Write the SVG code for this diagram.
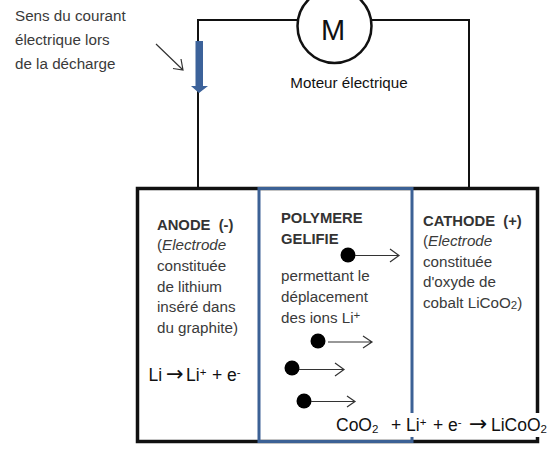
<svg xmlns="http://www.w3.org/2000/svg" width="553" height="451" viewBox="0 0 553 451">
<style>
text{font-family:"Liberation Sans",Arial,sans-serif;fill:#111;white-space:pre}
.lab{font-size:15.200px;fill:#3a3a3a}
.b{font-size:14.800px;font-weight:bold;fill:#333}
.f{font-size:17.500px;fill:#111}
.s{font-size:11.500px}
.arr{font-family:"DejaVu Sans",sans-serif;font-size:22px}
.wire{fill:none;stroke:#111;stroke-width:2}
.thick{fill:none;stroke:#111;stroke-width:3.500}
.ar{fill:none;stroke:#333;stroke-width:1.200}
</style>
<rect width="553" height="451" fill="#fff"/>
<g id="connectors">
<path class="wire" d="M198 188V20H297M372 20H469V188"/>
<path class="ar" d="M156 44L183 70M173 68.500L183 70L181 59"/>
</g>
<g id="current-arrow"><path d="M195.500 41H203V86H208L199 93L191 86H195.500Z" fill="#3c629a"/></g>
<g id="motor">
<circle cx="334.500" cy="26" r="37" fill="#fff" stroke="#111" stroke-width="2.500"/>
<text x="333" y="40" font-size="29" text-anchor="middle">M</text>
<text x="349" y="88" font-size="15.200" text-anchor="middle">Moteur électrique</text>
</g>
<g id="label-current">
<text class="lab" x="15" y="21">Sens du courant</text>
<text class="lab" x="15" y="45">électrique lors</text>
<text class="lab" x="15" y="69">de la décharge</text>
</g>
<g id="anode">
<rect x="137.500" y="188.500" width="400" height="253" class="thick"/>
<text class="b" x="157" y="230">ANODE  (-)</text>
<text class="lab" x="157" y="250">(<tspan font-style="italic">Electrode</tspan></text>
<text class="lab" x="157" y="271">constituée</text>
<text class="lab" x="157" y="292">de lithium</text>
<text class="lab" x="157" y="312">inséré dans</text>
<text class="lab" x="157" y="333">du graphite)</text>
<text class="f" y="381"><tspan x="148.500">Li</tspan><tspan x="166" class="arr" style="font-size:21px">→</tspan><tspan x="186">Li</tspan><tspan class="s" dy="-5">+</tspan><tspan x="212" dy="5">+ e</tspan><tspan class="s" dy="-5">-</tspan></text>
</g>
<g id="polymere">
<rect x="259" y="188.500" width="153" height="253" fill="none" stroke="#3c6195" stroke-width="3"/>
<text class="b" x="281" y="223">POLYMERE</text>
<text class="b" x="281" y="244">GELIFIE</text>
<text class="lab" x="281" y="281">permettant le</text>
<text class="lab" x="281" y="302">déplacement</text>
<text class="lab" x="281" y="323">des ions Li<tspan class="s" dy="-4">+</tspan></text>
</g>
<g id="ions">
<circle cx="348" cy="255" r="7.500" fill="#000"/><path class="ar" d="M355 255.500H399M390 249L399 255.500L390 262"/>
<circle cx="318" cy="341" r="7.500" fill="#000"/><path class="ar" d="M328 342H372M363 336L372 342L363 348"/>
<circle cx="292" cy="368" r="7.500" fill="#000"/><path class="ar" d="M299 369.500H344M335 363L344 369.500L335 376"/>
<circle cx="304" cy="401" r="7.500" fill="#000"/><path class="ar" d="M311 401.500H355M347 396L355 401.500L347 407"/>
</g>
<g id="cathode">
<text class="b" x="423" y="226">CATHODE  (+)</text>
<text class="lab" x="423" y="246">(<tspan font-style="italic">Electrode</tspan></text>
<text class="lab" x="423" y="267">constituée</text>
<text class="lab" x="423" y="287">d'oxyde de</text>
<text class="lab" x="423" y="308">cobalt LiCoO<tspan class="s" dy="1">2</tspan><tspan dy="-1">)</tspan></text>
</g>
<g id="equation">
<rect x="334" y="413" width="218" height="24" fill="#fff"/>
<text class="f" y="431"><tspan x="336">CoO</tspan><tspan class="s" dy="2">2</tspan><tspan x="391" dy="-2">+ Li</tspan><tspan class="s" dy="-5">+</tspan><tspan x="433" dy="5">+ e</tspan><tspan class="s" dy="-5">-</tspan><tspan x="469" dy="5" class="arr">→</tspan><tspan x="491">LiCoO</tspan><tspan class="s" dy="2">2</tspan></text>
</g>
</svg>
